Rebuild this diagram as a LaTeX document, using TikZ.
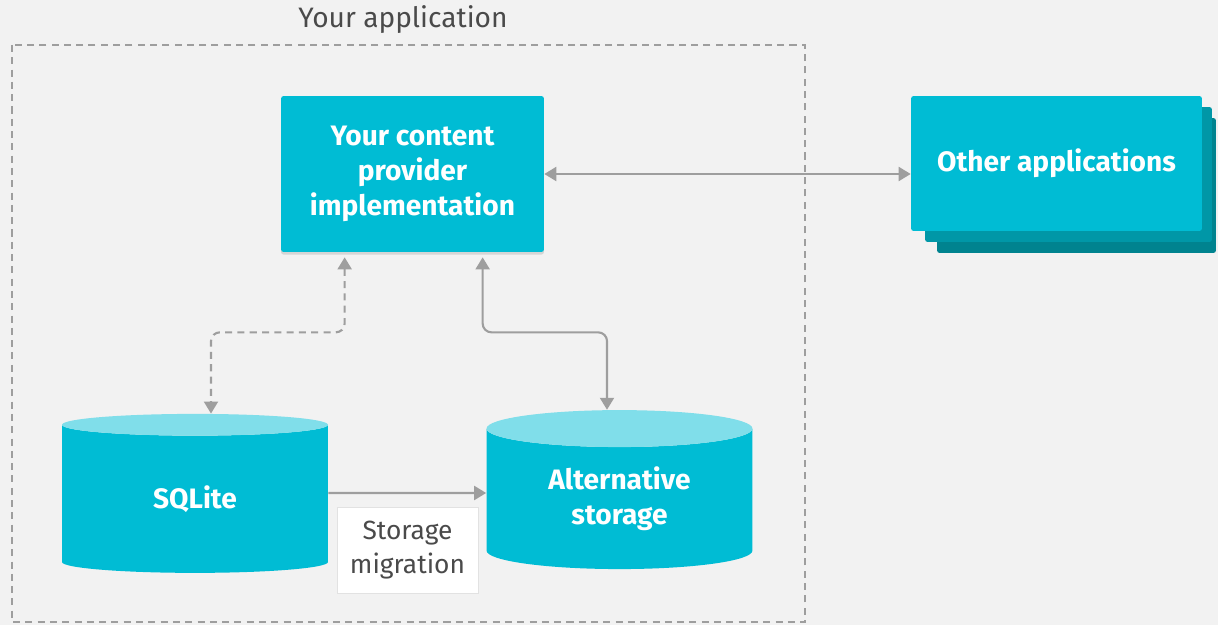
\documentclass[tikz,border=0pt]{standalone}
\usepackage{fontspec}
\setmainfont{Fira Sans}
\usetikzlibrary{positioning,arrows.meta,shapes.geometric,shadows}
\definecolor{colorbg}   {HTML}{F2F2F2}
\definecolor{colorbox}  {HTML}{00BCD4}
\definecolor{colortop}  {HTML}{80DEEA}
\definecolor{colormid}  {HTML}{0097A7}
\definecolor{colordeep} {HTML}{00838F}
\definecolor{colorline} {HTML}{9E9E9E}
\definecolor{colortext} {HTML}{4A4A4A}

\begin{document}
\begin{tikzpicture}[
    x=0.02cm, y=-0.02cm,
    font={\fontsize{15}{18}\selectfont},
    >={Triangle[width=0.28cm,length=0.24cm]},
    conn/.style={draw=colorline,line width=1.2pt,rounded corners=5pt},
    frame/.style={draw=colorline,line width=0.8pt,dash pattern=on 4pt off 3pt},
    txt/.style={text=colortext,align=center},
    card/.style={fill=colorbox,rounded corners=1.5pt,text=white,align=center,
                 font={\fontsize{16}{20}\selectfont\bfseries}},
    store/.style={cylinder,shape border rotate=90,aspect=0.26,
                  cylinder uses custom fill,cylinder body fill=colorbox,
                  cylinder end fill=colortop,minimum width=5.32cm,
                  minimum height=3.18cm,inner sep=0pt,text=white,align=center,
                  font={\fontsize{16}{20}\selectfont\bfseries}},
]

    % background and frame
    \fill[colorbg] (0,0) rectangle (1218,625);
    \useasboundingbox (0,0) rectangle (1218,625);
    \draw[frame] (12,45) rectangle (805,622);
    \node[txt,font={\fontsize{16}{19}\selectfont}] (apptitle) at (403,20) {Your application};

    % boxes
    \node[card,minimum width=5.26cm,minimum height=3.12cm,
          drop shadow={opacity=0.25,shadow xshift=0pt,shadow yshift=-1.5pt}]
          (provider) at (412.5,174) {Your content\\provider\\implementation};

    \node[card,fill=colordeep,minimum width=5.58cm,minimum height=2.7cm] (otherc) at (1076.5,185.5) {};
    \node[card,fill=colormid, minimum width=5.74cm,minimum height=2.7cm] (otherb) at (1068.5,174.5) {};
    \node[card,minimum width=5.82cm,minimum height=2.7cm] (otherapps) at (1056.5,163.5) {Other applications};

    % storages
    \node[store] (sqlite)   at (195,499)   {SQLite};
    \node[store] (altstore) at (619.5,499) {Alternative\\storage};

    \node[txt,fill=white,draw=colorline!30,minimum width=2.82cm,minimum height=1.72cm,
          font={\fontsize{15}{19.5}\selectfont}]
          (migration) at (407.5,550) {Storage\\migration};

    % connectors
    \draw[conn,<->] (provider.east) -- (provider.east -| otherapps.west);
    \draw[conn,dash pattern=on 4pt off 3pt,<->]
        ([xshift=1.28cm,yshift=-0.1cm]provider.south west) -- ++(0,75)
        -| ([xshift=0.32cm]sqlite.north);
    \draw[conn,<->]
        ([xshift=4.04cm,yshift=-0.1cm]provider.south west) -- ++(0,75)
        -| ([xshift=-0.25cm]altstore.north);
    \draw[conn,->] ([yshift=0.12cm]sqlite.east) -- ([yshift=0.12cm]altstore.west);

\end{tikzpicture}
\end{document}
